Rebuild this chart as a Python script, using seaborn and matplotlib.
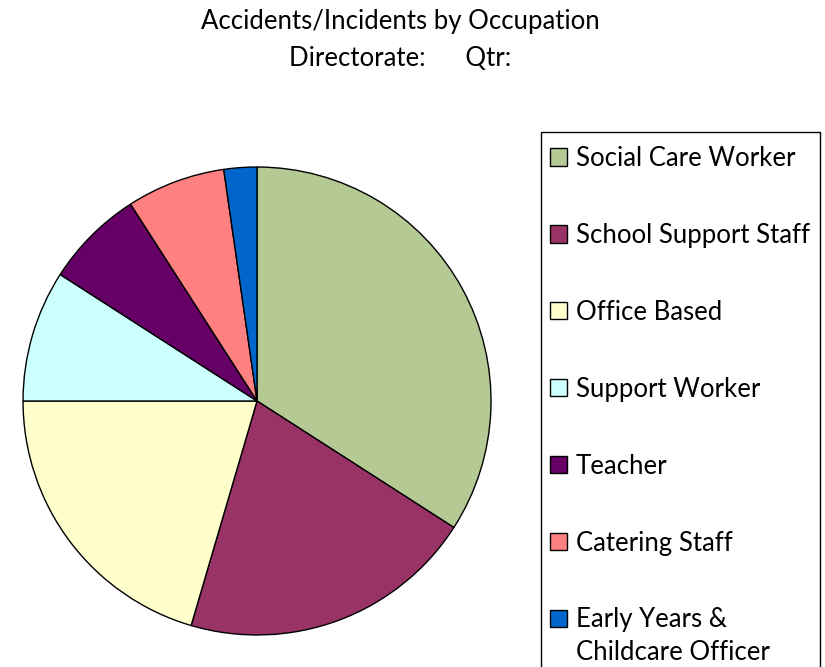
import matplotlib.pyplot as plt
import matplotlib.patches as mpatches
import seaborn as sns

occupations = ["Social Care Worker", "School Support Staff", "Office Based",
               "Support Worker", "Teacher", "Catering Staff", "Early Years &"]
last_label_line2 = "Childcare Officer"
incidents = [15, 9, 9, 4, 3, 3, 1]
colours = ["#b5c994", "#993366", "#ffffcc", "#ccffff", "#660066", "#ff8080", "#0066cc"]

sns.set_theme(style="white")
plt.rcParams["font.family"] = ["Lato", "DejaVu Sans"]
plt.rcParams["text.color"] = "black"

fig = plt.figure(figsize=(8.25, 6.67), dpi=100)
ax = fig.add_axes([0.0279, 0.048, 0.5673, 0.7016])
ax.pie(incidents, colors=colours, startangle=90, counterclock=False,
       wedgeprops={"edgecolor": "black", "linewidth": 1.0})
ax.set_xlim(-1, 1)
ax.set_ylim(-1, 1)
ax.set_aspect("equal")

fig.text(0.485, 1 - 21 / 667, "Accidents/Incidents by Occupation",
         ha="center", va="center", fontsize=18.5)
fig.text(0.485, 1 - 59 / 667, "Directorate:      Qtr:",
         ha="center", va="center", fontsize=18.5)

# legend frame, runs off the bottom of the figure like the original
frame = mpatches.Rectangle((541 / 825, -0.1), (820 - 541) / 825, 1 - 132 / 667 + 0.1,
                           transform=fig.transFigure, fill=False,
                           edgecolor="black", linewidth=1.0)
fig.patches.append(frame)

handles = [mpatches.Patch(facecolor=c, edgecolor="black", linewidth=1.0) for c in colours]
fig.legend(handles, occupations, loc="upper left",
           bbox_to_anchor=(550 / 825, 1 - 146 / 667), frameon=False,
           fontsize=18.5, handlelength=0.66, handleheight=0.66,
           handletextpad=0.35, labelspacing=2.02, borderpad=0, borderaxespad=0)
fig.text(576 / 825, 1 - 653 / 667, last_label_line2, ha="left", va="center",
         fontsize=18.5)

fig.savefig("out.png", dpi=100)
